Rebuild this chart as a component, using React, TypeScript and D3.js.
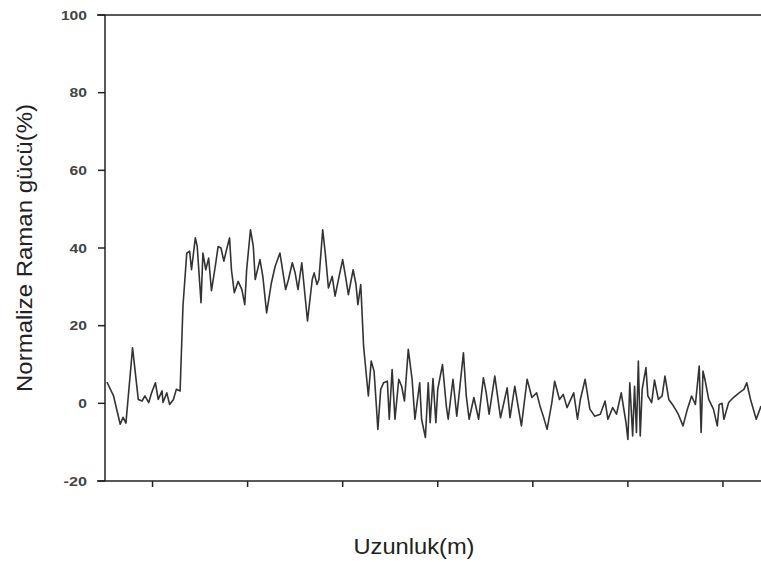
import React from "react";
import * as d3 from "d3";

const distance = [2, 9, 16, 19, 22, 29, 35, 39, 42, 46, 49, 53, 56, 60, 61, 65, 68, 72, 75, 79,
  82, 86, 89, 91, 95, 97, 101, 103, 106, 109, 112, 116, 119, 122, 125, 127, 131, 133, 136, 140,
  144, 147, 149, 153, 156, 158, 163, 166, 170, 175, 179, 184, 190, 193, 197, 200, 203, 207, 213, 218,
  220, 223, 225, 229, 232, 235, 239, 242, 247, 250, 253, 256, 261, 264, 266, 269, 272, 276, 277, 280,
  283, 285, 287, 290, 293, 297, 299, 302, 305, 309, 312, 315, 319, 323, 326, 331, 333, 337, 340, 342,
  345, 348, 350, 355, 359, 361, 366, 370, 373, 377, 380, 383, 388, 393, 398, 401, 404, 410, 416, 423,
  426, 431, 438, 444, 449, 454, 458, 461, 465, 470, 473, 478, 482, 486, 493, 497, 500, 505, 510, 515,
  521, 526, 529, 534, 538, 543, 548, 550, 552, 555, 557, 559, 561, 563, 565, 569, 571, 575, 578, 582,
  586, 589, 593, 598, 603, 608, 612, 617, 621, 625, 627, 629, 631, 635, 640, 644, 646, 649, 651, 656,
  661, 667, 672, 675, 679, 685, 690];

const power = [5.5, 1.9, -5.4, -3.6, -5.1, 14.3, 1.0, 0.6, 1.9, 0.2, 2.7, 5.3, 1.0, 3.2, 0.2, 2.7, -0.3, 1.0, 3.6, 3.2,
  25, 38.7, 39.2, 34.4, 42.6, 40.4, 25.9, 38.7, 34.4, 37.4, 29, 35.3, 40.4, 40, 36.6, 38.7, 42.6, 34.4, 28.5, 31.4,
  29.3, 25.4, 34.4, 44.7, 40.4, 31.9, 37, 32.7, 23.3, 31, 35.3, 38.7, 29.3, 31.9, 36.2, 33.6, 29.3, 36.2, 21.2, 31.9,
  33.6, 30.6, 31.9, 44.7, 37.9, 29.7, 32.7, 27.6, 33.6, 37, 32.7, 28, 34.4, 30.6, 25.4, 30.6, 14.7, 4.4, 1.9, 10.9,
  8.3, 1.0, -6.7, 3.6, 5.3, 5.7, -4.1, 8.7, -4.1, 6.2, 4.4, 0.6, 13.9, 6.2, -4.1, 5.3, -4.1, -8.8, 5.3, -5,
  6.4, -5, 3.6, 10, -0.7, -4.1, 6.2, -3.3, 3.6, 13, 1.9, -4.1, 1.5, -4.1, 6.6, 2.7, -2.8, 7.0, -3.7, 4.0,
  -3.7, 4.4, -5.8, 6.2, 1.5, 2.7, -1.1, -3.3, -6.7, 0.2, 5.7, 1.0, 2.3, -1.1, 2.7, -4.1, 1.0, 6.2, -1.5, -3.3,
  -2.8, 0.6, -4.1, -1.1, -2.8, 2.7, -5, -9.3, 5.3, -8.4, 4.4, -7.5, 10.9, -8.4, 3.6, 9.2, 1.9, 0.2, 6.0, 1.0,
  1.9, 7.0, 1.0, -0.7, -2.8, -5.8, -2.0, 1.9, -0.3, 9.6, -7.5, 8.3, 6.2, 1.0, -1.5, -5.8, -0.3, 0, -4.1, 0.2,
  1.5, 2.7, 3.6, 5.3, 1.0, -4.1, -0.7];

const yTicks = [100, 80, 60, 40, 20, 0, -20];
const xTicks = [50, 150, 250, 350, 450, 550, 650];
const yTitle = "Normalize Raman gücü(%)";
const xTitle = "Uzunluk(m)";

export default function App() {
  const W = 761, H = 562;
  const left = 105, right = 761, top = 15, bottom = 481;
  const x = d3.scaleLinear().domain([0, 690]).range([left, right]);
  const y = d3.scaleLinear().domain([-20, 100]).range([bottom, top]);
  const data = distance.map((d, i) => [d, power[i]] as [number, number]);
  const line = d3.line<[number, number]>().x(d => x(d[0])).y(d => y(d[1]));
  const axisColor = "#222";
  return (
    <svg width={W} height={H} style={{ position: "absolute", left: 0, top: 0, background: "#fff" }}
      fontFamily="'Liberation Sans', Arial, sans-serif">
      <rect x={0} y={0} width={W} height={H} fill="#fff" />
      <line x1={left - 8} x2={right} y1={top} y2={top} stroke={axisColor} strokeWidth={1.5} />
      <line x1={left - 8} x2={right} y1={bottom} y2={bottom} stroke={axisColor} strokeWidth={1.5} />
      <line x1={left} x2={left} y1={top} y2={bottom} stroke={axisColor} strokeWidth={1.5} />
      {yTicks.map(t => {
        const label = String(t);
        const len = label.replace("-", "").length * 8.7 + (t < 0 ? 6 : 0);
        return (
          <g key={"y" + t}>
            <line x1={left - 7} x2={left} y1={y(t)} y2={y(t)} stroke={axisColor} strokeWidth={1.5} />
            <text x={87} y={y(t) + 4.5} textAnchor="end" fontSize={12} fontWeight="bold" fill="#444"
              textLength={len} lengthAdjust="spacingAndGlyphs">{label}</text>
          </g>
        );
      })}
      {xTicks.map(t => (
        <line key={"x" + t} x1={x(t)} x2={x(t)} y1={bottom} y2={bottom + 6} stroke={axisColor} strokeWidth={1.5} />
      ))}
      <path d={line(data) || ""} fill="none" stroke="#333" strokeWidth={1.6} strokeLinejoin="round" />
      <text transform={`translate(32, 248) rotate(-90)`} textAnchor="middle" fontSize={22} fill="#222"
        textLength={288} lengthAdjust="spacingAndGlyphs">{yTitle}</text>
      <text x={414} y={554} textAnchor="middle" fontSize={22} fill="#222"
        textLength={121} lengthAdjust="spacingAndGlyphs">{xTitle}</text>
    </svg>
  );
}
